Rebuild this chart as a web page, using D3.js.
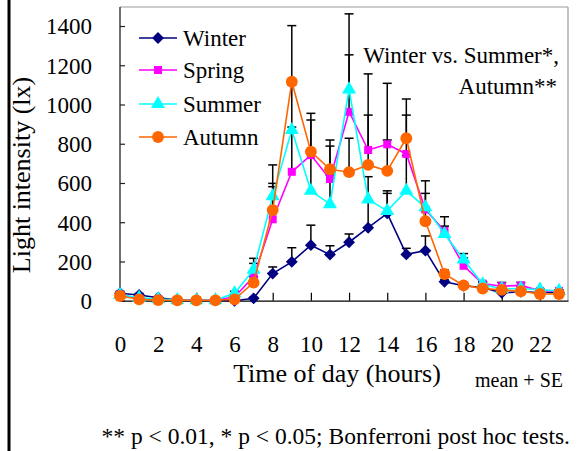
<!DOCTYPE html>
<html>
<head>
<meta charset="utf-8">
<script src="https://cdn.jsdelivr.net/npm/d3@7"></script>
<style>
  html, body { margin: 0; padding: 0; background: #fff; }
  svg text { font-family: 'Liberation Serif', 'Times New Roman', serif; fill: #000; }
</style>
</head>
<body>
<svg id="chart" width="578" height="451" font-family="'Liberation Serif', 'Times New Roman', serif"></svg>
<script>
// ---- data ----
const hours = d3.range(0, 24);
const xTickLabels = [0, 2, 4, 6, 8, 10, 12, 14, 16, 18, 20, 22];
const yTickLabels = [0, 200, 400, 600, 800, 1000, 1200, 1400];

const winter = [38, 29, 15, 3, 2, 2, 0, 12, 138, 198, 283, 235, 298, 372, 445, 236, 255, 96, 76, 67, 40, 45, 42, 42];
const spring = [30, 12, 5, 3, 2, 2, 20, 122, 415, 657, 742, 620, 963, 768, 797, 748, 465, 355, 178, 87, 74, 78, 50, 50];
const summer = [30, 15, 8, 3, 2, 3, 38, 158, 533, 870, 560, 492, 1077, 516, 458, 560, 476, 340, 210, 84, 60, 62, 56, 50];
const autumn = [24, 7, 3, 2, 2, 2, 7, 92, 462, 1116, 760, 670, 655, 692, 662, 828, 405, 136, 78, 62, 55, 48, 34, 34];

const winterSE = [10, 8, 5, 0, 0, 0, 0, 5, 34, 72, 102, 45, 42, 138, 102, 31, 75, 10, 10, 10, 10, 10, 5, 5];
const springSE = [5, 2, 2, 2, 2, 2, 10, 68, 183, 228, 179, 168, 290, 388, 311, 198, 146, 73, 40, 10, 19, 15, 5, 5];
const summerSE = [5, 2, 2, 2, 2, 2, 10, 58, 159, 229, 200, 148, 385, 116, 102, 180, 71, 40, 30, 10, 10, 10, 5, 5];
const autumnSE = [5, 2, 2, 2, 2, 2, 5, 30, 119, 286, 195, 149, 173, 254, 157, 200, 50, 20, 10, 10, 10, 10, 5, 5];

const seriesNames = ["Winter", "Spring", "Summer", "Autumn"];
const seriesValues = [winter, spring, summer, autumn];
const seriesSE = [winterSE, springSE, summerSE, autumnSE];
const seriesColors = ["#000080", "#FF00FF", "#00FFFF", "#FF6600"];
const seriesSymbols = [d3.symbolDiamond2, d3.symbolSquare, d3.symbolTriangle, d3.symbolCircle];
const symbolSizes = [90, 64, 85, 110];

const FONT = "'Liberation Serif', 'Times New Roman', serif";

// ---- layout ----
const svg = d3.select("#chart");
const plot = { left: 120, right: 568, top: 7, bottom: 300.7 };

const x = d3.scaleLinear().domain([0, 23.47]).range([plot.left, plot.right]);
const y = d3.scaleLinear().domain([0, 1500]).range([plot.bottom, plot.bottom - 1500 * 39.24 / 200]);

// outer left frame line
svg.append("line").attr("x1", 9).attr("x2", 9).attr("y1", 0).attr("y2", 451)
  .attr("stroke", "#000").attr("stroke-width", 3);

// plot frame: top/right grey
svg.append("line").attr("x1", plot.left).attr("x2", plot.right).attr("y1", plot.top).attr("y2", plot.top)
  .attr("stroke", "#999").attr("stroke-width", 1.2);
svg.append("line").attr("x1", plot.right).attr("x2", plot.right).attr("y1", plot.top).attr("y2", plot.bottom)
  .attr("stroke", "#999").attr("stroke-width", 1.2);

// y axis
const yAxis = d3.axisLeft(y).tickValues(yTickLabels).tickFormat(d3.format("d"))
  .tickSizeInner(-5).tickSizeOuter(0).tickPadding(28);
const gy = svg.append("g").attr("transform", `translate(${plot.left},0)`).call(yAxis)
  .attr("font-family", FONT).attr("font-size", 23);
gy.select(".domain").attr("stroke", "#222").attr("stroke-width", 1.3)
  .attr("d", `M0,${plot.top}V${plot.bottom}`);
gy.selectAll(".tick line").attr("stroke", "#222").attr("stroke-width", 1.2);
gy.selectAll(".tick text").attr("fill", "#000").attr("dy", "0.34em");

// x axis
const xAxis = d3.axisBottom(x).tickValues(xTickLabels).tickFormat(d3.format("d"))
  .tickSizeInner(-8).tickSizeOuter(0);
const gx = svg.append("g").attr("transform", `translate(0,${plot.bottom})`).call(xAxis)
  .attr("font-family", FONT).attr("font-size", 23);
gx.select(".domain").attr("stroke", "#000").attr("stroke-width", 1.3);
gx.selectAll(".tick line").attr("stroke", "#000").attr("stroke-width", 1.2);
gx.selectAll(".tick text").attr("fill", "#000").attr("y", 51).attr("dy", null);

// error bars (mean + SE), drawn below markers
const eb = svg.append("g");
seriesValues.forEach((vals, si) => {
  vals.forEach((v, i) => {
    const se = seriesSE[si][i];
    if (se <= 0) return;
    const cx = x(hours[i]), y0 = y(v), y1 = y(v + se);
    eb.append("line").attr("x1", cx).attr("x2", cx).attr("y1", y0).attr("y2", y1)
      .attr("stroke", "#000").attr("stroke-width", 1.5);
    eb.append("line").attr("x1", cx - 4.5).attr("x2", cx + 4.5).attr("y1", y1).attr("y2", y1)
      .attr("stroke", "#000").attr("stroke-width", 1.5);
  });
});

// series
const line = d3.line().x((d, i) => x(hours[i])).y(d => y(d));
seriesValues.forEach((vals, si) => {
  const g = svg.append("g");
  g.append("path").datum(vals).attr("d", line).attr("fill", "none")
    .attr("stroke", seriesColors[si]).attr("stroke-width", 1.6);
  g.selectAll("path.pt").data(vals).enter().append("path").attr("class", "pt")
    .attr("transform", (d, i) => `translate(${x(hours[i])},${y(d)})`)
    .attr("d", d3.symbol().type(seriesSymbols[si]).size(symbolSizes[si]))
    .attr("fill", seriesColors[si]);
});

// legend
const lg = svg.append("g");
const legendY = [38, 70, 104, 137];
seriesNames.forEach((name, si) => {
  const yy = legendY[si];
  lg.append("line").attr("x1", 139).attr("x2", 177).attr("y1", yy).attr("y2", yy)
    .attr("stroke", seriesColors[si]).attr("stroke-width", 1.6);
  lg.append("path").attr("transform", `translate(158,${yy})`)
    .attr("d", d3.symbol().type(seriesSymbols[si]).size(symbolSizes[si]))
    .attr("fill", seriesColors[si]);
  lg.append("text").attr("x", 183).attr("y", yy).attr("dy", "0.34em")
    .attr("font-family", FONT).attr("font-size", 23).text(name);
});

// annotation
svg.append("text").attr("x", 559).attr("y", 63).attr("text-anchor", "end")
  .attr("font-family", FONT).attr("font-size", 23).text("Winter vs. Summer*,");
svg.append("text").attr("x", 557).attr("y", 94).attr("text-anchor", "end")
  .attr("font-family", FONT).attr("font-size", 23).text("Autumn**");

// axis titles
svg.append("text").attr("transform", "translate(30,175) rotate(-90)").attr("text-anchor", "middle")
  .attr("font-family", FONT).attr("font-size", 26).text("Light intensity (lx)");
svg.append("text").attr("x", 337).attr("y", 382).attr("text-anchor", "middle")
  .attr("font-family", FONT).attr("font-size", 26).text("Time of day (hours)");
svg.append("text").attr("x", 563).attr("y", 387).attr("text-anchor", "end")
  .attr("font-family", FONT).attr("font-size", 20).text("mean + SE");

// footnote
svg.append("text").attr("x", 570).attr("y", 444).attr("text-anchor", "end")
  .attr("font-family", FONT).attr("font-size", 23.5).text("** p < 0.01, * p < 0.05; Bonferroni post hoc tests.");
</script>
</body>
</html>
